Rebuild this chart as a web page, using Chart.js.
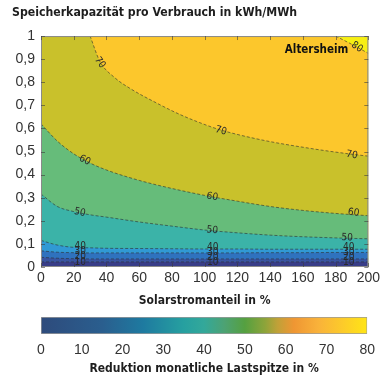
<!DOCTYPE html>
<html>
<head>
<meta charset="utf-8" />
<title>Speicherkapazität pro Verbrauch</title>
<script src="https://cdn.jsdelivr.net/npm/chart.js@4.4.0/dist/chart.umd.min.js"></script>
<style>
  body { margin: 0; background: #fff; }
  .box { position: relative; width: 383px; }
</style>
</head>
<body>
<div class="box" style="height:310px"><canvas id="contourChart"></canvas></div>
<div class="box" style="height:71px"><canvas id="barChart"></canvas></div>
<script>
// x positions (Solarstromanteil in %) where the lower contour lines were read
const solarX = [0, 10, 20, 30, 40, 60, 80, 100, 120, 140, 160, 180, 200];
// contour lines: Speicherkapazitaet (y) for each level
const line10 = [0.022, 0.022, 0.022, 0.022, 0.022, 0.022, 0.022, 0.022, 0.022, 0.022, 0.022, 0.022, 0.022];
const line20 = [0.042, 0.038, 0.036, 0.035, 0.035, 0.035, 0.035, 0.035, 0.035, 0.035, 0.035, 0.035, 0.035];
const line30 = [0.070, 0.064, 0.062, 0.061, 0.061, 0.061, 0.061, 0.061, 0.061, 0.062, 0.062, 0.063, 0.063];
const line40 = [0.115, 0.095, 0.085, 0.083, 0.081, 0.080, 0.079, 0.078, 0.078, 0.077, 0.077, 0.077, 0.077];
const line50 = [0.316, 0.262, 0.240, 0.226, 0.216, 0.195, 0.177, 0.160, 0.148, 0.138, 0.131, 0.126, 0.122];
const line60 = [0.620, 0.545, 0.490, 0.450, 0.420, 0.375, 0.340, 0.310, 0.285, 0.262, 0.245, 0.232, 0.222];
const x70 = [30, 36, 45, 54, 72, 85, 97, 109, 135, 165, 188, 200];
const line70 = [1.0, 0.89, 0.82, 0.775, 0.705, 0.66, 0.625, 0.595, 0.55, 0.513, 0.49, 0.48];
const x80 = [180, 191, 200];
const line80 = [1.0, 0.96, 0.925];

// band colours: <10, 10-20, ... 70-80, >80
const bandColors = ['#383d88', '#3954a0', '#2f72be', '#3199d4', '#3bb3a8', '#66bc7a', '#c9c12b', '#fcc72c', '#f7ef12'];

// contour labels [text, x, y, angle]
const contourLabels = [
  ['70', 36, 0.885, 55], ['70', 110, 0.59, 16], ['70', 190, 0.485, 10],
  ['80', 193, 0.952, 35],
  ['60', 26.7, 0.462, 28], ['60', 104.6, 0.304, 12], ['60', 191, 0.235, 8],
  ['50', 23.7, 0.236, 12], ['50', 104.6, 0.159, 6], ['50', 187, 0.127, 3],
  ['40', 24, 0.091, 0], ['30', 24, 0.066, 0], ['20', 24, 0.044, 0], ['10', 24, 0.022, 0],
  ['40', 105, 0.084, 0], ['30', 105, 0.062, 0], ['20', 105, 0.040, 0], ['10', 105, 0.020, 0],
  ['40', 188, 0.087, 0], ['30', 188, 0.064, 0], ['20', 188, 0.042, 0], ['10', 188, 0.021, 0]
];

// colorbar
const cbStops = [0, 15, 25, 35, 40, 45, 50, 55, 58, 62, 68, 74, 80];
const cbColors = ['#2e4b7c', '#2a5e8e', '#1e7aa0', '#26a0a0', '#33a89a', '#4da273', '#55a040', '#8ea43a', '#c0a138', '#ef9633', '#f9b23a', '#fccb2a', '#ffe515'];

const TICKFONT = '"Liberation Sans", Arial, sans-serif';
const BOLDFONT = '"DejaVu Sans Condensed", sans-serif';

function mkLine(xs, ys) {
  return xs.map((x, i) => ({ x: x, y: ys[i] }));
}

function contour(xs, ys, fill, color) {
  return {
    data: mkLine(xs, ys),
    fill: fill,
    backgroundColor: color,
    borderColor: 'rgba(45,45,45,0.75)',
    borderWidth: 0.8,
    borderDash: [3, 2],
    pointRadius: 0,
    cubicInterpolationMode: 'monotone'
  };
}

const contourPlugin = {
  id: 'contourExtras',
  beforeDatasetsDraw(chart) {
    const a = chart.chartArea, c = chart.ctx;
    c.save();
    c.fillStyle = bandColors[6];
    c.fillRect(a.left, a.top, a.right - a.left, a.bottom - a.top);
    c.restore();
  },
  afterDatasetsDraw(chart) {
    const a = chart.chartArea, c = chart.ctx;
    const xs = chart.scales.x, ys = chart.scales.y;
    c.save();
    // frame + inward ticks
    c.strokeStyle = '#8a8a8a';
    c.lineWidth = 1;
    c.strokeRect(a.left + 0.5, a.top + 0.5, a.right - a.left - 1, a.bottom - a.top - 1);
    c.strokeStyle = 'rgba(60,60,60,0.6)';
    c.beginPath();
    xs.ticks.forEach(t => {
      const px = Math.round(xs.getPixelForValue(t.value)) + 0.5;
      c.moveTo(px, a.top); c.lineTo(px, a.top + 4);
      c.moveTo(px, a.bottom); c.lineTo(px, a.bottom - 4);
    });
    ys.ticks.forEach(t => {
      const py = Math.round(ys.getPixelForValue(t.value)) + 0.5;
      c.moveTo(a.left, py); c.lineTo(a.left + 4, py);
      c.moveTo(a.right, py); c.lineTo(a.right - 4, py);
    });
    c.stroke();
    // contour labels
    c.fillStyle = '#2a2a2a';
    c.font = '10px ' + BOLDFONT;
    c.textAlign = 'center';
    c.textBaseline = 'middle';
    contourLabels.forEach(l => {
      c.save();
      c.translate(xs.getPixelForValue(l[1]), ys.getPixelForValue(l[2]));
      c.rotate(l[3] * Math.PI / 180);
      c.fillText(l[0], 0, 0);
      c.restore();
    });
    // site name
    c.fillStyle = '#111';
    c.font = 'bold 11.5px ' + BOLDFONT;
    c.textAlign = 'right';
    c.fillText('Altersheim', a.right - 20, a.top + 14);
    c.restore();
  }
};

new Chart(document.getElementById('contourChart'), {
  type: 'line',
  data: {
    datasets: [
      contour(solarX, line10, 'start', bandColors[0]),
      contour(solarX, line20, 'start', bandColors[1]),
      contour(solarX, line30, 'start', bandColors[2]),
      contour(solarX, line40, 'start', bandColors[3]),
      contour(solarX, line50, 'start', bandColors[4]),
      contour(solarX, line60, 'start', bandColors[5]),
      contour(x80, line80, 'end', bandColors[8]),
      contour(x70, line70, 'end', bandColors[7])
    ]
  },
  options: {
    responsive: true,
    maintainAspectRatio: false,
    animation: false,
    layout: { padding: { left: 12, right: 13, top: 0, bottom: 0 } },
    plugins: {
      legend: { display: false },
      tooltip: { enabled: false },
      title: {
        display: true,
        text: 'Speicherkapazität pro Verbrauch in kWh/MWh',
        align: 'start',
        color: '#1e1e1e',
        font: { family: BOLDFONT, size: 12.2, weight: 'bold', lineHeight: 1.2 },
        padding: { top: 6, bottom: 15.4 }
      }
    },
    scales: {
      x: {
        type: 'linear', min: 0, max: 200,
        grid: { display: false, drawTicks: false },
        border: { display: false },
        ticks: { stepSize: 20, color: '#333', padding: 3, font: { family: TICKFONT, size: 14 } },
        title: {
          display: true, text: 'Solarstromanteil in %', color: '#1e1e1e',
          font: { family: BOLDFONT, size: 12, weight: 'bold' }, padding: { top: 0, bottom: 2 }
        },
        afterFit(s) { s.height = 43; }
      },
      y: {
        type: 'linear', min: 0, max: 1,
        grid: { display: false, drawTicks: false },
        border: { display: false },
        ticks: {
          stepSize: 0.1, color: '#333', padding: 6, font: { family: TICKFONT, size: 14 },
          callback: v => String(Number(v.toFixed(1))).replace('.', ',')
        },
        afterFit(s) { s.width = 29; }
      }
    }
  },
  plugins: [contourPlugin]
});

new Chart(document.getElementById('barChart'), {
  type: 'bar',
  data: {
    labels: ['Reduktion'],
    datasets: [{
      data: [[0, 80]],
      backgroundColor: ctx => {
        const area = ctx.chart.chartArea;
        if (!area) return cbColors[0];
        const g = ctx.chart.ctx.createLinearGradient(area.left, 0, area.right, 0);
        cbStops.forEach((s, i) => g.addColorStop(s / 80, cbColors[i]));
        return g;
      },
      borderColor: '#9a9a9a',
      borderWidth: 1,
      borderSkipped: false,
      barPercentage: 1,
      categoryPercentage: 1
    }]
  },
  options: {
    indexAxis: 'y',
    responsive: true,
    maintainAspectRatio: false,
    animation: false,
    layout: { padding: { left: 41, right: 13, top: 7, bottom: 0 } },
    plugins: { legend: { display: false }, tooltip: { enabled: false } },
    scales: {
      x: {
        type: 'linear', min: 0, max: 80,
        grid: { display: false, drawTicks: false },
        border: { display: false },
        ticks: { stepSize: 10, color: '#333', padding: 8, font: { family: TICKFONT, size: 14 } },
        title: {
          display: true, text: 'Reduktion monatliche Lastspitze in %', color: '#1e1e1e',
          font: { family: BOLDFONT, size: 12, weight: 'bold' }, padding: { top: 0, bottom: 5 }
        },
        afterFit(s) { s.height = 47; }
      },
      y: { display: false }
    }
  }
});
</script>
</body>
</html>
